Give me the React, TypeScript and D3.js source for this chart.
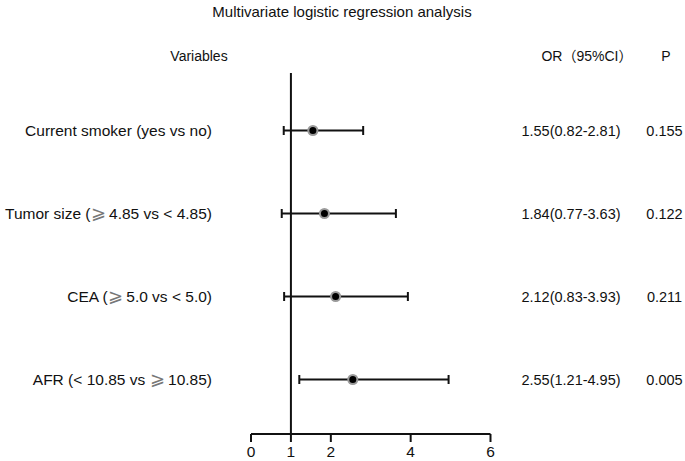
import React from "react";
import * as d3 from "d3";

const variables = [
  "Current smoker (yes vs no)",
  "Tumor size (⩾4.85 vs < 4.85)",
  "CEA (⩾5.0 vs < 5.0)",
  "AFR (< 10.85 vs ⩾10.85)",
];
const orValues = [1.55, 1.84, 2.12, 2.55];
const ciLow = [0.82, 0.77, 0.83, 1.21];
const ciHigh = [2.81, 3.63, 3.93, 4.95];
const orLabels = ["1.55(0.82-2.81)", "1.84(0.77-3.63)", "2.12(0.83-3.93)", "2.55(1.21-4.95)"];
const pValues = ["0.155", "0.122", "0.211", "0.005"];
const xTicks = [0, 1, 2, 4, 6];

const W = 685;
const H = 461;
const FONT = "'Liberation Sans', Arial, sans-serif";
const SYM_FONT = "'Noto Sans CJK SC', 'DejaVu Sans', sans-serif";

function renderLabel(s: string) {
  const parts = s.split("⩾");
  const out: React.ReactNode[] = [];
  parts.forEach((p, i) => {
    if (i > 0) {
      out.push(
        <tspan key={"s" + i} dx={0.5} fontFamily={SYM_FONT} fontSize={18} fill="#777" fontWeight={300}>
          ⩾
        </tspan>
      );
    }
    out.push(
      <tspan key={"p" + i} dx={i > 0 ? 3 : 0}>
        {p}
      </tspan>
    );
  });
  return out;
}

export default function App() {
  const x = d3.scaleLinear().domain([0, 6]).range([251, 490.5]);
  const y = d3
    .scalePoint<number>()
    .domain(variables.map((_, i) => i))
    .range([130.5, 379.5]);
  const axisY = 434;
  const refTop = 73;

  return (
    <svg
      width={W}
      height={H}
      style={{ position: "absolute", left: 0, top: 0, background: "#fff" }}
      fontFamily={FONT}
    >
      <rect width={W} height={H} fill="#fff" />
      <text x={342} y={17} textAnchor="middle" fontSize={15} fill="#111">
        Multivariate logistic regression analysis
      </text>
      <text x={199} y={61} textAnchor="middle" fontSize={14} fill="#111">
        Variables
      </text>
      <text x={587} y={61} textAnchor="middle" fontSize={14} fill="#111">
        OR<tspan fontFamily={SYM_FONT}>（</tspan>95%CI<tspan fontFamily={SYM_FONT}>）</tspan>
      </text>
      <text x={666} y={61} textAnchor="middle" fontSize={14} fill="#111">
        P
      </text>

      {/* reference line at OR = 1 */}
      <line x1={x(1)} x2={x(1)} y1={refTop} y2={axisY} stroke="#111" strokeWidth={2} />

      {/* x axis */}
      <line x1={x(0)} x2={x(6)} y1={axisY} y2={axisY} stroke="#111" strokeWidth={2} />
      {xTicks.map((t) => (
        <g key={t}>
          <line x1={x(t)} x2={x(t)} y1={axisY} y2={axisY + 8} stroke="#111" strokeWidth={2} />
          <text x={x(t)} y={457} textAnchor="middle" fontSize={15.5} fill="#111">
            {t}
          </text>
        </g>
      ))}

      {variables.map((v, i) => {
        const cy = y(i) as number;
        return (
          <g key={v}>
            <text x={212} y={cy + 5.5} textAnchor="end" fontSize={15.5} fill="#111">
              {renderLabel(v)}
            </text>
            <line x1={x(ciLow[i])} x2={x(ciHigh[i])} y1={cy} y2={cy} stroke="#111" strokeWidth={2} />
            <line x1={x(ciLow[i])} x2={x(ciLow[i])} y1={cy - 4.5} y2={cy + 4.5} stroke="#111" strokeWidth={2} />
            <line x1={x(ciHigh[i])} x2={x(ciHigh[i])} y1={cy - 4.5} y2={cy + 4.5} stroke="#111" strokeWidth={2} />
            <circle cx={x(orValues[i])} cy={cy} r={5.5} fill="#9a9a9a" />
            <circle cx={x(orValues[i])} cy={cy} r={3.5} fill="#000" />
            <text x={571} y={cy + 5} textAnchor="middle" fontSize={14.5} fill="#111">
              {orLabels[i]}
            </text>
            <text x={664.5} y={cy + 5} textAnchor="middle" fontSize={14.5} fill="#111">
              {pValues[i]}
            </text>
          </g>
        );
      })}
    </svg>
  );
}
